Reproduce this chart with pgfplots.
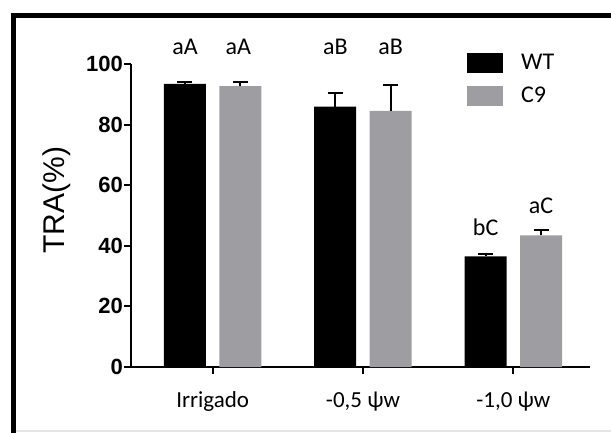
\documentclass[border=0pt]{standalone}
\usepackage{pgfplots}
\pgfplotsset{compat=1.18}
\usepackage{fontspec}
\setmainfont{Carlito}
\newfontfamily\arialfont{Liberation Sans}
\definecolor{cgray}{RGB}{158,158,162}
\begin{document}
\begin{tikzpicture}[x=1pt,y=1pt]
\useasboundingbox (0,0) rectangle (611,432);
\draw[line width=5pt] (13.5,-10) -- (13.5,416.5) -- (625,416.5);
\draw[line width=1.5pt, gray!20] (16,1) -- (611,1);
\begin{axis}[
  at={(131pt,65pt)}, anchor=south west,
  scale only axis, width=459pt, height=303pt,
  xmin=-0.543, xmax=2.51, ymin=0, ymax=100,
  clip=false,
  axis x line=bottom, axis y line=left,
  axis line style={-, line width=2pt, black},
  ytick={0,20,...,100}, xtick={0,1,2},
  xticklabels={Irrigado, {-0,5 ψw}, {-1,0 ψw}},
  tick style={line width=2pt, black},
  major tick length=7pt, tick align=outside,
  /pgf/number format/assume math mode=true,
  yticklabel style={font=\arialfont\bfseries\fontsize{22}{22}\selectfont, inner sep=1pt},
  xticklabel style={font=\fontsize{23}{23}\selectfont, yshift=-14pt},
  ylabel={TRA(\%)},
  ylabel style={font=\arialfont\fontsize{30}{30}\selectfont, at={(rel axis cs:-0.162,0.551)}, anchor=center},
  ybar=13.5pt, bar width=42pt,
  legend style={draw=none, fill=none, at={(rel axis cs:0.732,1.04)}, anchor=north west,
    inner sep=0pt, font=\fontsize{24}{24}\selectfont, row sep=12pt,
    cells={anchor=west},
    /tikz/every odd column/.append style={column sep=16pt}},
  legend image code/.code={\fill[#1] (0pt,-10pt) rectangle (36pt,10pt);},
  error bars/y dir=plus, error bars/y explicit,
  error bars/error bar style={line width=2pt, black},
  error bars/error mark options={rotate=90, mark size=7.5pt, line width=2pt, black},
]
\addplot[fill=black, draw=none] coordinates {(0,93.4) +- (0,0.6) (1,85.9) +- (0,4.4) (2,36.5) +- (0,0.7)};
\addplot[fill=cgray, draw=none] coordinates {(0,92.7) +- (0,1.5) (1,84.5) +- (0,8.6) (2,43.4) +- (0,1.8)};
\legend{WT, C9}
\node[font=\fontsize{24}{24}\selectfont] at (axis cs:-0.184,105.6) {aA};
\node[font=\fontsize{24}{24}\selectfont] at (axis cs:0.17,105.6) {aA};
\node[font=\fontsize{24}{24}\selectfont] at (axis cs:0.816,105.6) {aB};
\node[font=\fontsize{24}{24}\selectfont] at (axis cs:1.184,105.6) {aB};
\node[font=\fontsize{24}{24}\selectfont] at (axis cs:1.816,46.2) {bC};
\node[font=\fontsize{24}{24}\selectfont] at (axis cs:2.184,53.2) {aC};
\end{axis}
\end{tikzpicture}
\end{document}
